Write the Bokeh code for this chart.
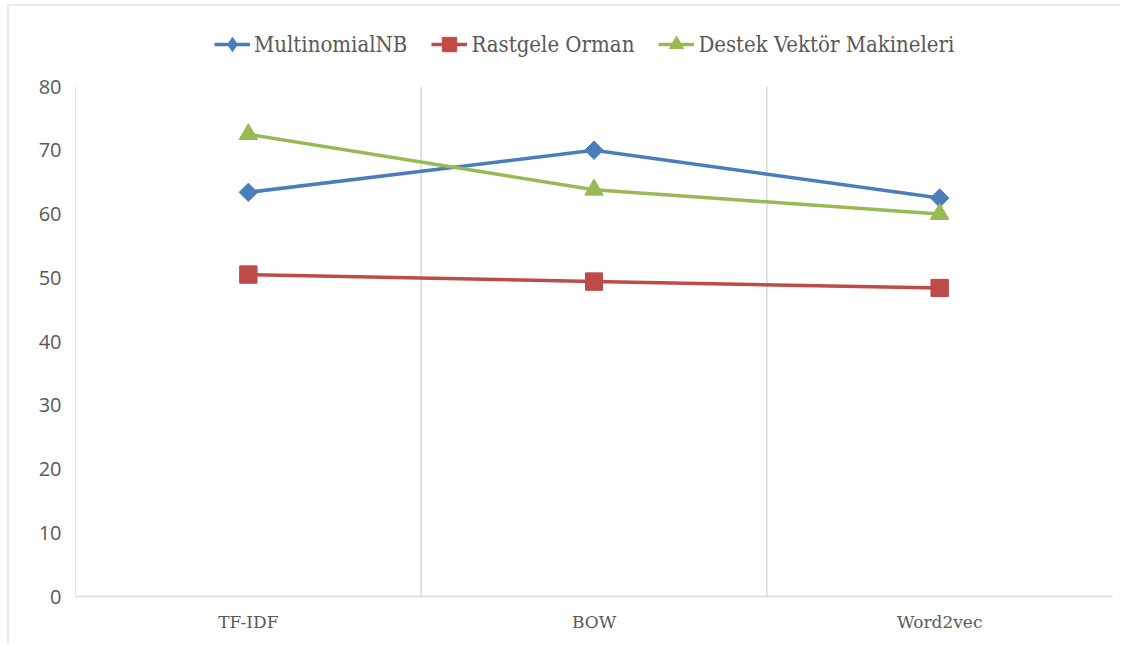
import math
from bokeh.plotting import figure
from bokeh.models import Legend, LegendItem, FixedTicker
from bokeh.embed import file_html
from bokeh.resources import INLINE

categories = ["TF-IDF", "BOW", "Word2vec"]
series_names = ["MultinomialNB", "Rastgele Orman", "Destek Vektör Makineleri"]
mnb = [63.4, 70.0, 62.5]
rf = [50.5, 49.4, 48.4]
svm = [72.5, 63.8, 60.0]
y_ticks = [0, 10, 20, 30, 40, 50, 60, 70, 80]

colors = ["#4A7EBB", "#BE4B48", "#98B954"]
markers = ["square", "square", "triangle"]
legend_markers = ["diamond", "square", "triangle"]
angles = [math.pi / 4, 0, 0]
sizes = [13, 17, 18]

xs = [i + 0.5 for i in range(len(categories))]

# layout (pixels)
H = 640
top_pad = 9        # frame starts near figure top; legend lives inside frame
bottom_pad = 50
axis_top_px = 80   # where y=80 should sit, from figure top
frame_h = H - top_pad - bottom_pad
plot_h = H - axis_top_px - bottom_pad
y_max = y_ticks[-1] * frame_h / plot_h

p = figure(width=1113, height=H, output_backend="svg", toolbar_location=None,
           x_range=(0, len(categories)), y_range=(0, y_max),
           min_border_left=66, min_border_right=10, min_border_bottom=bottom_pad,
           min_border_top=top_pad)
p.outline_line_color = None
p.background_fill_color = "white"
p.border_fill_color = "white"
p.xgrid.grid_line_color = None
p.ygrid.grid_line_color = None

# category separator lines (Excel-style vertical gridlines between categories)
seps = list(range(1, len(categories)))
p.segment(x0=seps, y0=[y_ticks[0]] * len(seps), x1=seps, y1=[y_ticks[-1]] * len(seps),
          line_color="#D9D9D9", line_width=1.5)

items = []
for name, vals, c, m, lm, a, s in zip(series_names, [mnb, rf, svm], colors, markers,
                                      legend_markers, angles, sizes):
    r1 = p.line(xs, vals, line_color=c, line_width=3.5)
    # legend-shape marker (hidden under the plotted marker)
    r0 = p.scatter(xs, vals, marker=lm, size=s - 2 if lm == "diamond" else s,
                   fill_color=c, line_color=c)
    r2 = p.scatter(xs, vals, marker=m, angle=a, size=s, fill_color=c, line_color=c)
    items.append(LegendItem(label=name, renderers=[r1, r0]))

legend = Legend(items=items, orientation="horizontal",
                location=(139, frame_h - 4 - 44),
                label_text_font="DejaVu Serif Condensed", label_text_font_size="22px",
                label_text_color="#595959", glyph_width=36, glyph_height=38,
                label_standoff=4, spacing=24, padding=4, margin=0,
                border_line_color=None, background_fill_alpha=0)
p.add_layout(legend, "center")

# axes
p.xaxis.ticker = FixedTicker(ticks=xs)
p.xaxis.major_label_overrides = {x: c for x, c in zip(xs, categories)}
p.xaxis.major_label_text_font = "DejaVu Serif"
p.xaxis.major_label_text_font_size = "17px"
p.xaxis.major_label_text_color = "#595959"
p.xaxis.major_label_standoff = 9
p.xaxis.axis_line_color = "#D9D9D9"
p.xaxis.axis_line_width = 1.5
p.xaxis.major_tick_line_color = None
p.xaxis.minor_tick_line_color = None

p.yaxis.ticker = FixedTicker(ticks=y_ticks)
p.yaxis.bounds = (y_ticks[0], y_ticks[-1])
p.yaxis.major_label_text_font = "Open Sans"
p.yaxis.major_label_text_font_size = "20px"
p.yaxis.major_label_text_color = "#595959"
p.yaxis.major_label_standoff = 8
p.yaxis.axis_line_color = "#E3E3E3"
p.yaxis.axis_line_width = 1
p.yaxis.major_tick_line_color = None
p.yaxis.minor_tick_line_color = None

p.styles = {"margin-left": "7px", "margin-top": "4px",
            "border-top": "2px solid #E8E8E8", "border-left": "2px solid #E8E8E8"}

open("out.html", "w").write(file_html(p, INLINE))
